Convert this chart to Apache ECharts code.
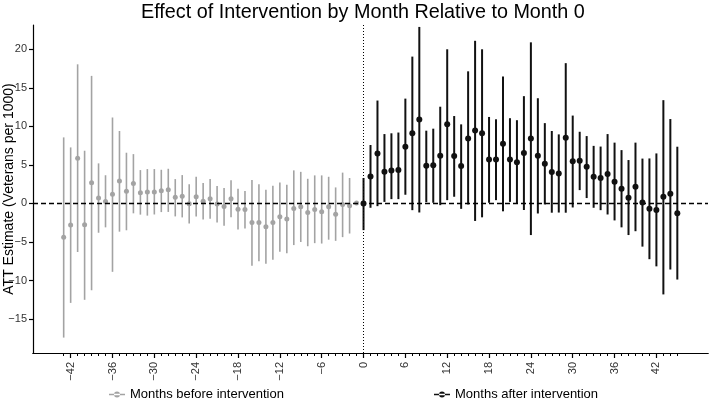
<!DOCTYPE html>
<html>
<head>
<meta charset="utf-8">
<script src="https://cdn.jsdelivr.net/npm/echarts@6/dist/echarts.min.js"></script>
<style>
html,body{margin:0;padding:0;background:#fff;}
#chart{width:709px;height:406px;}
</style>
</head>
<body>
<div id="chart"></div>
<script>
// Months before intervention (-43 .. -1)
const monthsBefore = [-43,-42,-41,-40,-39,-38,-37,-36,-35,-34,-33,-32,-31,-30,-29,-28,-27,-26,-25,-24,-23,-22,-21,-20,-19,-18,-17,-16,-15,-14,-13,-12,-11,-10,-9,-8,-7,-6,-5,-4,-3,-2,-1];
const estBefore = [-4.4,-2.8,5.85,-2.75,2.68,0.72,0.26,1.19,2.9,1.58,2.6,1.39,1.47,1.5,1.65,1.77,0.8,0.95,-0.05,0.87,0.28,0.62,-0.06,-0.41,0.62,-0.74,-0.8,-2.47,-2.47,-3.03,-2.47,-1.73,-2.03,-0.67,-0.43,-1.17,-0.8,-1.08,-0.43,-1.39,-0.13,-0.3,0.05];
const lowBefore = [-17.4,-12.9,-6.3,-12.5,-11.26,-3.8,-3.1,-8.87,-3.66,-3.48,-1.28,-1.45,-1.58,-1.43,-1.12,-1.1,-1.68,-1.81,-2.6,-1.68,-2.08,-1.98,-2.47,-2.9,-1.8,-3.38,-3.25,-8.07,-7.5,-7.82,-7.3,-6.25,-6.47,-5.4,-5.0,-5.55,-5.15,-5.2,-4.7,-4.85,-4.37,-3.9,0.05];
const highBefore = [8.57,7.27,18.05,6.84,16.55,5.2,3.66,11.15,9.4,6.58,6.4,4.33,4.46,4.46,4.37,4.5,3.16,3.68,2.5,3.46,2.64,3.16,2.25,2.0,3.0,1.9,1.6,3.03,2.5,1.77,2.3,2.73,2.42,4.29,4.1,3.2,3.64,3.64,3.46,2.08,4.0,3.3,0.05];

// Months after intervention (0 .. 45)
const monthsAfter = [0,1,2,3,4,5,6,7,8,9,10,11,12,13,14,15,16,17,18,19,20,21,22,23,24,25,26,27,28,29,30,31,32,33,34,35,36,37,38,39,40,41,42,43,44,45];
const estAfter = [0,3.5,6.49,4.1,4.29,4.35,7.36,9.12,10.9,4.9,4.94,6.19,10.26,6.17,4.85,8.42,9.46,9.1,5.7,5.7,7.75,5.7,5.33,6.55,8.44,6.19,5.15,4.08,3.9,8.53,5.48,5.55,4.76,3.48,3.29,3.83,2.83,1.92,0.74,2.16,0.11,-0.69,-0.85,0.87,1.26,-1.28];
const lowAfter = [-3.46,-0.56,-0.35,0.2,0.56,0.56,1.13,-0.87,-1.17,0.17,0.09,-0.22,0.43,0.87,-0.7,-0.13,-2.27,-1.8,0.09,0.43,-1.02,0.2,0.0,-0.85,-4.1,-1.3,-0.13,-1.2,-1.18,-1.2,-0.52,1.73,0.7,-0.56,-0.87,-1.43,-2.2,-3.1,-4.1,-3.6,-5.6,-7.23,-8.16,-11.8,-8.57,-9.87];
const highAfter = [3.3,7.58,13.35,9.0,9.1,9.2,13.6,19.05,22.9,9.44,9.7,12.55,20.0,11.34,10.26,17.14,21.1,20.0,11.22,10.92,16.47,11.06,10.8,13.92,20.9,13.65,10.42,9.4,8.96,18.2,11.4,9.3,8.74,7.47,7.38,9.0,7.89,6.92,5.63,7.89,5.82,5.84,6.49,13.4,10.95,7.36];

// Axis ticks
const xTickLabels = [-42,-36,-30,-24,-18,-12,-6,0,6,12,18,24,30,36,42];
const xMinorTicks = [-43,-42,-41,-40,-39,-38,-37,-36,-35,-34,-33,-32,-31,-30,-29,-28,-27,-26,-25,-24,-23,-22,-21,-20,-19,-18,-17,-16,-15,-14,-13,-12,-11,-10,-9,-8,-7,-6,-5,-4,-3,-2,-1,0,1,2,3,4,5,6,7,8,9,10,11,12,13,14,15,16,17,18,19,20,21,22,23,24,25,26,27,28,29,30,31,32,33,34,35,36,37,38,39,40,41,42,43,44,45];
const yTickLabels = [-15,-10,-5,0,5,10,15,20];

const nameBefore = 'Months before intervention';
const nameAfter = 'Months after intervention';
const colBefore = '#a3a3a3';
const colAfter = '#111111';
const FONT = '"Liberation Sans", Arial, Helvetica, sans-serif';

function rows(m, e, l, h) { return m.map((v, i) => [v, l[i], h[i], e[i]]); }
const minus = v => String(v).replace('-', '\u2212');

function barRenderer(color, width) {
  return function (params, api) {
    const x = api.value(0);
    const p1 = api.coord([x, api.value(1)]);
    const p2 = api.coord([x, api.value(2)]);
    return {
      type: 'line',
      shape: { x1: p1[0], y1: p1[1], x2: p2[0], y2: p2[1] },
      style: { stroke: color, lineWidth: width }
    };
  };
}

const chart = echarts.init(document.getElementById('chart'), null, { renderer: 'canvas' });
const iconPath = 'path://M0,4.3L16,4.3L16,5.7L0,5.7Z M8,2A3,3 0 1,0 8.001,2Z';

chart.setOption({
  animation: false,
  backgroundColor: '#ffffff',
  textStyle: { fontFamily: FONT },
  title: {
    text: 'Effect of Intervention by Month Relative to Month 0',
    left: 136, top: -2,
    textStyle: { fontFamily: FONT, fontSize: 19.8, fontWeight: 'normal', color: '#000' }
  },
  legend: [
    { data: [{ name: nameBefore, icon: iconPath }], left: 104, top: 383, itemWidth: 16, itemHeight: 10, itemGap: 8,
      textStyle: { fontFamily: FONT, fontSize: 13, color: '#000' } },
    { data: [{ name: nameAfter, icon: iconPath }], left: 429, top: 383, itemWidth: 16, itemHeight: 10, itemGap: 8,
      textStyle: { fontFamily: FONT, fontSize: 13, color: '#000' } }
  ],
  grid: { left: 33, right: 1, top: 25, bottom: 53, containLabel: false, outerBoundsMode: 'none' },
  xAxis: [
    {
      type: 'value', min: -47.4, max: 49.4,
      splitLine: { show: false },
      axisLine: { onZero: false, lineStyle: { color: '#000', width: 1.2 } },
      axisTick: { customValues: xTickLabels, length: 5, lineStyle: { color: '#000', width: 1.2 } },
      axisLabel: { customValues: xTickLabels, rotate: 90, margin: 9, fontSize: 11, color: '#333', fontFamily: FONT, formatter: minus }
    },
    {
      type: 'value', min: -47.4, max: 49.4, position: 'bottom',
      splitLine: { show: false },
      axisLine: { show: true, onZero: false, lineStyle: { color: '#000', width: 1.2 } },
      axisTick: { show: true, customValues: xMinorTicks, length: 3, lineStyle: { color: '#000', width: 1 } },
      axisLabel: { show: false }
    }
  ],
  yAxis: {
    type: 'value', min: -19.4, max: 23.15,
    name: 'ATT Estimate (Veterans per 1000)', nameLocation: 'middle', nameGap: 17, nameMoveOverlap: false,
    nameTextStyle: { fontFamily: FONT, fontSize: 14, color: '#000' },
    splitLine: { show: false },
    axisLine: { show: true, onZero: false, lineStyle: { color: '#000', width: 1.2 } },
    axisTick: { show: true, customValues: yTickLabels, length: 4, lineStyle: { color: '#000', width: 1.2 } },
    axisLabel: { customValues: yTickLabels, margin: 6, fontSize: 11, color: '#333', fontFamily: FONT, formatter: minus }
  },
  series: [
    {
      type: 'custom', name: nameBefore + ' bars', renderItem: barRenderer(colBefore, 1.6),
      data: rows(monthsBefore, estBefore, lowBefore, highBefore), encode: { x: 0, y: [1, 2] }, z: 2, silent: true
    },
    {
      type: 'scatter', name: nameBefore, data: monthsBefore.map((m, i) => [m, estBefore[i]]),
      symbol: 'circle', symbolSize: 5, itemStyle: { color: colBefore, opacity: 1 }, z: 3, silent: true
    },
    {
      type: 'custom', name: nameAfter + ' bars', renderItem: barRenderer(colAfter, 2),
      data: rows(monthsAfter, estAfter, lowAfter, highAfter), encode: { x: 0, y: [1, 2] }, z: 2, silent: true
    },
    {
      type: 'scatter', name: nameAfter, data: monthsAfter.map((m, i) => [m, estAfter[i]]),
      symbol: 'circle', symbolSize: 6, itemStyle: { color: colAfter, opacity: 1 }, z: 5, silent: true
    },
    {
      type: 'scatter', name: 'ref', data: [], z: 4, silent: true,
      markLine: {
        silent: true, symbol: 'none', animation: false,
        label: { show: false },
        data: [
          { yAxis: 0, lineStyle: { type: [5, 3], color: '#000', width: 1.4 } },
          { xAxis: 0, lineStyle: { type: [1, 2], color: '#000', width: 1 } }
        ]
      }
    }
  ]
});
</script>
</body>
</html>
